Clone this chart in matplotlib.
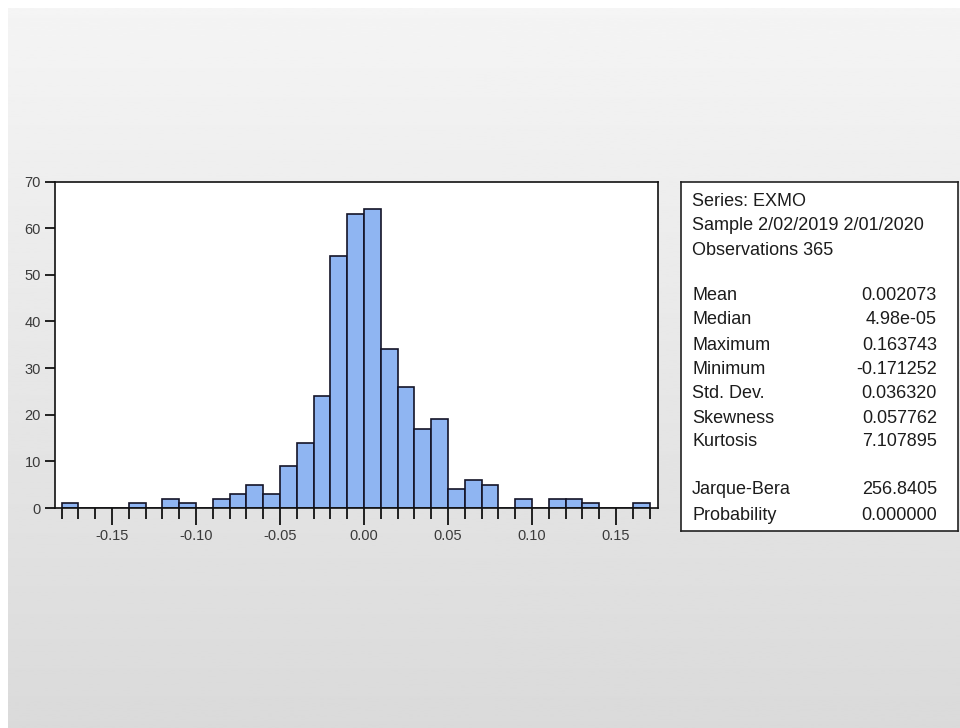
import matplotlib
matplotlib.use("Agg")
import matplotlib.pyplot as plt
import numpy as np

# histogram of EXMO daily returns (bin lower edges, width 0.01)
bin_lefts = [-0.18, -0.17, -0.16, -0.15, -0.14, -0.13, -0.12, -0.11, -0.10, -0.09,
             -0.08, -0.07, -0.06, -0.05, -0.04, -0.03, -0.02, -0.01, 0.00, 0.01,
             0.02, 0.03, 0.04, 0.05, 0.06, 0.07, 0.08, 0.09, 0.10, 0.11,
             0.12, 0.13, 0.14, 0.15, 0.16]
counts = [1, 0, 0, 0, 1, 0, 2, 1, 0, 2,
          3, 5, 3, 9, 14, 24, 54, 63, 64, 34,
          26, 17, 19, 4, 6, 5, 0, 2, 0, 2,
          2, 1, 0, 0, 1]
bin_width = 0.01

x_major = [-0.15, -0.10, -0.05, 0.00, 0.05, 0.10, 0.15]
y_major = [0, 10, 20, 30, 40, 50, 60, 70]

header_lines = ["Series: EXMO", "Sample 2/02/2019 2/01/2020", "Observations 365"]
stat_names = ["Mean", "Median", "Maximum", "Minimum", "Std. Dev.", "Skewness", "Kurtosis"]
stat_values = ["0.002073", "4.98e-05", "0.163743", "-0.171252", "0.036320", "0.057762", "7.107895"]
test_names = ["Jarque-Bera", "Probability"]
test_values = ["256.8405", "0.000000"]

W, H = 960, 728
fig = plt.figure(figsize=(W / 100, H / 100), dpi=100, facecolor="white")

# grey gradient backdrop (screenshot look, thin white strip top/left)
bg = fig.add_axes([8 / W, 0, (W - 8) / W, (H - 8) / H], zorder=-10)
grad = np.linspace(0.958, 0.855, 256).reshape(-1, 1)
bg.imshow(grad, cmap="gray", vmin=0, vmax=1, aspect="auto", extent=[0, 1, 0, 1])
bg.axis("off")

def fx(px):
    return px / W

def fy(py):
    return 1 - py / H

# histogram axes
ax = fig.add_axes([fx(55), fy(508), (658 - 55) / W, (508 - 181.5) / H])
ax.set_facecolor("white")
ax.bar(bin_lefts, counts, width=bin_width, align="edge",
       color="#8fb5f2", edgecolor="#141428", linewidth=1.2)
ax.set_xlim(-0.1839, 0.175)
ax.set_ylim(0, 70)

ax.set_xticks(x_major)
ax.set_xticklabels(["%.2f" % v for v in x_major])
ax.set_xticks([b for b in bin_lefts] + [0.17], minor=True)
ax.set_yticks(y_major)
ax.tick_params(axis="x", which="major", direction="out", length=12, width=1.2,
               pad=3, labelsize=10.5, labelcolor="#3a3a3a")
ax.tick_params(axis="x", which="minor", direction="out", length=8, width=1.2)
ax.tick_params(axis="y", which="major", direction="out", length=7, width=1.2,
               pad=3, labelsize=10.5, labelcolor="#3a3a3a")
ax.tick_params(top=False, right=False)
for lab in ax.get_xticklabels() + ax.get_yticklabels():
    lab.set_family("Liberation Sans")
for sp in ax.spines.values():
    sp.set_linewidth(1.2)
    sp.set_color("#111111")

# statistics box
box = fig.add_axes([fx(681), fy(531), (958 - 681) / W, (531 - 182) / H])
box.set_facecolor("white")
box.set_xticks([])
box.set_yticks([])
for sp in box.spines.values():
    sp.set_linewidth(1.2)
    sp.set_color("#222222")

txt = dict(fontsize=13, family="Liberation Sans", color="#1c1c1c", va="center")
label_x = fx(692)
value_x = fx(937)
header_y = [202, 225.5, 250.5]
stat_y = [296, 320, 345, 370, 394, 418.5, 442]
test_y = [490, 515]

for s, y in zip(header_lines, header_y):
    fig.text(label_x, fy(y), s, ha="left", **txt)
for n, v, y in zip(stat_names, stat_values, stat_y):
    fig.text(label_x, fy(y), n, ha="left", **txt)
    fig.text(value_x, fy(y), v, ha="right", **txt)
for n, v, y in zip(test_names, test_values, test_y):
    fig.text(label_x, fy(y), n, ha="left", **txt)
    fig.text(value_x, fy(y), v, ha="right", **txt)

fig.savefig("out.png", dpi=100, facecolor=fig.get_facecolor())
